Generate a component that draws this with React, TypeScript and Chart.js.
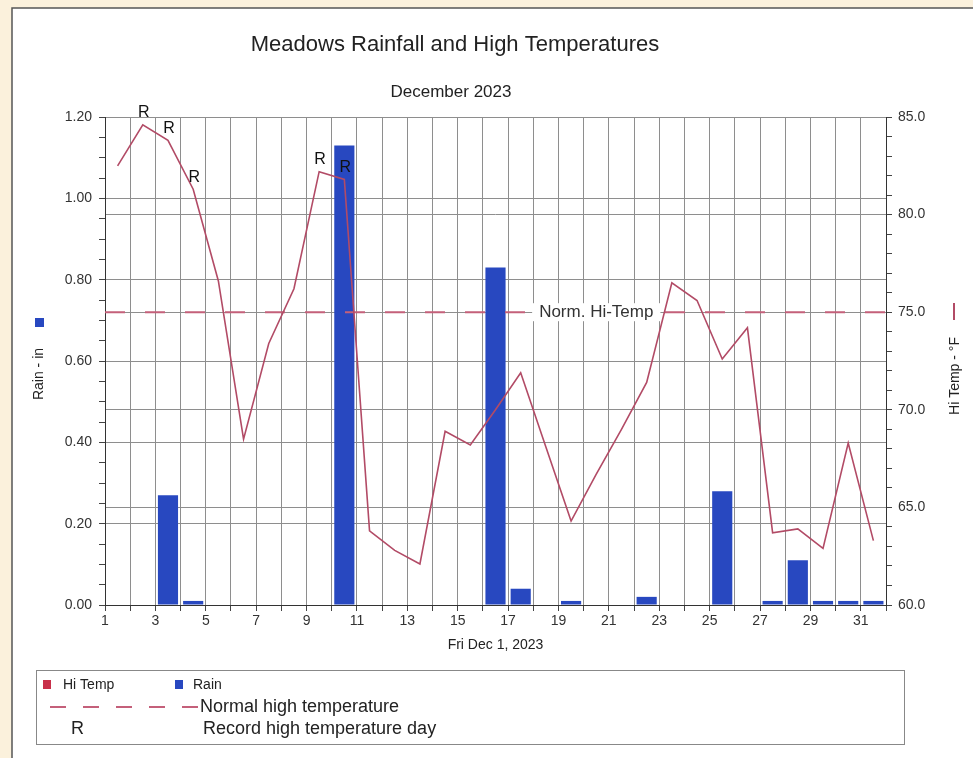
import React, { useEffect, useRef } from 'react';
import { Chart, registerables } from 'chart.js';

Chart.register(...registerables);

// ---------- data ----------
const TITLE = 'Meadows Rainfall and High Temperatures';
const SUBTITLE = 'December 2023';
const X_TITLE = 'Fri Dec 1, 2023';
const LEFT_TITLE = 'Rain - in';
const RIGHT_TITLE = 'Hi Temp - °F';
const NORM_LABEL = 'Norm. Hi-Temp';

const days = [
  1, 2, 3, 4, 5, 6, 7, 8, 9, 10, 11, 12, 13, 14, 15, 16,
  17, 18, 19, 20, 21, 22, 23, 24, 25, 26, 27, 28, 29, 30, 31,
];
const hiTemp = [
  82.5, 84.6, 83.8, 81.3, 76.6, 68.5, 73.4, 76.2, 82.2, 81.8, 63.8, 62.8, 62.1, 68.9, 68.2, 70.0,
  71.9, 68.1, 64.3, 66.7, 69.0, 71.4, 76.5, 75.6, 72.6, 74.2, 63.7, 63.9, 62.9, 68.3, 63.3,
];
const rain = [
  0, 0, 0.27, 0.01, 0, 0, 0, 0, 0, 1.13, 0, 0, 0, 0, 0, 0.83,
  0.04, 0, 0.01, 0, 0, 0.02, 0, 0, 0.28, 0, 0.01, 0.11, 0.01, 0.01, 0.01,
];
const recordDays = [2, 3, 4, 9, 10];
const normalHigh = 75;
const rainRange = [0, 1.2];
const tempRange = [60, 85];
const dayRange = [1, 32];

const legendItems = ['Hi Temp', 'Rain', 'Normal high temperature', 'Record high temperature day'];

// ---------- styles ----------
const FONT = '"Liberation Sans", Arial, Helvetica, sans-serif';
const TEMP_COLOR = '#b24b66';
const NORM_COLOR = '#c4607a';
const RAIN_COLOR = '#2848c0';
const HITEMP_SWATCH = '#c8304a';
const GRID = '#8e8e8e';
const AXIS = '#333333';

const decorPlugin = {
  id: 'decor',
  beforeDraw(chart: any) {
    const ctx = chart.ctx;
    const W = chart.width;
    const H = chart.height;
    ctx.save();
    ctx.fillStyle = '#fbf1dc';
    ctx.fillRect(0, 0, W, H);
    ctx.fillStyle = '#ffffff';
    ctx.fillRect(12, 8, W - 12, H - 8);
    ctx.strokeStyle = '#555555';
    ctx.lineWidth = 1.5;
    ctx.beginPath();
    ctx.moveTo(12, H);
    ctx.lineTo(12, 8);
    ctx.lineTo(W, 8);
    ctx.stroke();

    ctx.fillStyle = '#222222';
    ctx.textAlign = 'center';
    ctx.textBaseline = 'middle';
    ctx.font = `22px ${FONT}`;
    ctx.fillText(TITLE, 455, 45);
    ctx.font = `17px ${FONT}`;
    ctx.fillText(SUBTITLE, 451, 92);
    ctx.restore();
  },
  afterDatasetsDraw(chart: any) {
    const ctx = chart.ctx;
    const xs = chart.scales.x;
    const y1 = chart.scales.y1;
    ctx.save();
    // Norm label
    const ny = y1.getPixelForValue(normalHigh);
    const nx = xs.getPixelForValue(20.5);
    ctx.font = `17px ${FONT}`;
    const tw = ctx.measureText(NORM_LABEL).width;
    ctx.fillStyle = '#ffffff';
    ctx.fillRect(nx - tw / 2 - 7, ny - 9, tw + 14, 18);
    ctx.fillStyle = '#333333';
    ctx.textAlign = 'center';
    ctx.textBaseline = 'middle';
    ctx.fillText(NORM_LABEL, nx, ny);

    // record labels
    const meta = chart.getDatasetMeta(0);
    ctx.font = `16px ${FONT}`;
    ctx.fillStyle = '#111111';
    recordDays.forEach((d) => {
      const el = meta.data[days.indexOf(d)];
      if (el) ctx.fillText('R', el.x + 1, el.y - 12);
    });
    ctx.restore();
  },
  afterDraw(chart: any) {
    const ctx = chart.ctx;
    const ca = chart.chartArea;
    ctx.save();
    ctx.fillStyle = '#222222';
    ctx.textAlign = 'center';
    ctx.textBaseline = 'middle';
    ctx.font = `14px ${FONT}`;
    ctx.fillText(X_TITLE, (ca.left + ca.right) / 2, 645);

    // left axis title + marker
    ctx.fillStyle = RAIN_COLOR;
    ctx.fillRect(35, 318, 9, 9);
    ctx.fillStyle = '#222222';
    ctx.save();
    ctx.translate(39, 374);
    ctx.rotate(-Math.PI / 2);
    ctx.fillText(LEFT_TITLE, 0, 0);
    ctx.restore();

    // right axis title + marker
    ctx.strokeStyle = TEMP_COLOR;
    ctx.lineWidth = 2;
    ctx.beginPath();
    ctx.moveTo(954, 303);
    ctx.lineTo(954, 320);
    ctx.stroke();
    ctx.save();
    ctx.translate(955, 376);
    ctx.rotate(-Math.PI / 2);
    ctx.fillText(RIGHT_TITLE, 0, 0);
    ctx.restore();

    // legend box
    ctx.strokeStyle = '#888888';
    ctx.lineWidth = 1;
    ctx.strokeRect(36.5, 670.5, 868, 74);
    ctx.textAlign = 'left';
    ctx.fillStyle = HITEMP_SWATCH;
    ctx.fillRect(43, 680, 8, 9);
    ctx.fillStyle = RAIN_COLOR;
    ctx.fillRect(175, 680, 8, 9);
    ctx.fillStyle = '#222222';
    ctx.font = `14px ${FONT}`;
    ctx.fillText(legendItems[0], 63, 685);
    ctx.fillText(legendItems[1], 193, 685);
    ctx.strokeStyle = NORM_COLOR;
    ctx.lineWidth = 2;
    ctx.setLineDash([16, 17]);
    ctx.beginPath();
    ctx.moveTo(50, 707);
    ctx.lineTo(185, 707);
    ctx.stroke();
    ctx.setLineDash([]);
    ctx.beginPath();
    ctx.moveTo(183, 707);
    ctx.lineTo(198, 707);
    ctx.stroke();
    ctx.font = `18px ${FONT}`;
    ctx.fillText(legendItems[2], 200, 707);
    ctx.fillText(legendItems[3], 203, 729);
    ctx.fillText('R', 71, 729);
    ctx.restore();
  },
};

export default function App() {
  const ref = useRef<HTMLCanvasElement | null>(null);

  useEffect(() => {
    const canvas = ref.current;
    if (!canvas) return;
    const chart = new Chart(canvas, {
      type: 'bar',
      data: {
        datasets: [
          {
            type: 'line',
            label: 'Hi Temp',
            data: days.map((d, i) => ({ x: d + 0.5, y: hiTemp[i] })),
            yAxisID: 'y1',
            xAxisID: 'x',
            borderColor: TEMP_COLOR,
            borderWidth: 1.6,
            pointRadius: 0,
            tension: 0,
            order: 0,
          } as any,
          {
            type: 'line',
            label: 'Normal',
            data: [
              { x: dayRange[0], y: normalHigh },
              { x: dayRange[1], y: normalHigh },
            ],
            yAxisID: 'y1',
            xAxisID: 'x',
            borderColor: NORM_COLOR,
            borderWidth: 2,
            borderDash: [20, 20],
            pointRadius: 0,
            order: 1,
          } as any,
          {
            type: 'bar',
            label: 'Rain',
            data: days.map((d, i) => ({ x: d + 0.5, y: rain[i] })),
            yAxisID: 'y',
            xAxisID: 'x',
            backgroundColor: RAIN_COLOR,
            borderWidth: 0,
            barPercentage: 0.8,
            categoryPercentage: 1,
            order: 2,
          } as any,
        ],
      },
      options: {
        animation: false,
        responsive: false,
        maintainAspectRatio: false,
        layout: { padding: { top: 117, bottom: 123, left: 0, right: 0 } },
        plugins: {
          legend: { display: false },
          tooltip: { enabled: false },
          title: { display: false },
        },
        scales: {
          x: {
            type: 'linear',
            min: dayRange[0],
            max: dayRange[1],
            offset: false,
            afterFit: (s: any) => {
              s.height = 30;
            },
            grid: { color: GRID, tickColor: '#444', tickLength: 6, offset: false, lineWidth: 1 },
            border: { color: AXIS, width: 1 },
            ticks: {
              stepSize: 1,
              autoSkip: false,
              maxRotation: 0,
              padding: 2,
              color: '#333',
              font: { family: FONT, size: 14 },
              callback: (v: any) => (v % 2 === 1 && v <= 31 ? String(v) : ''),
            },
          },
          y: {
            type: 'linear',
            position: 'left',
            min: rainRange[0],
            max: rainRange[1],
            afterFit: (s: any) => {
              s.width = 105;
            },
            grid: {
              color: (c: any) => (Math.round(c.tick.value * 100) % 20 === 0 ? GRID : 'rgba(0,0,0,0)'),
              tickColor: '#444',
              tickLength: 6,
            },
            border: { color: AXIS, width: 1 },
            ticks: {
              stepSize: 0.05,
              maxTicksLimit: 100,
              autoSkip: false,
              padding: 7,
              color: '#333',
              font: { family: FONT, size: 14 },
              callback: (v: any) => (Math.round(v * 100) % 20 === 0 ? Number(v).toFixed(2) : ''),
            },
          },
          y1: {
            type: 'linear',
            position: 'right',
            min: tempRange[0],
            max: tempRange[1],
            afterFit: (s: any) => {
              s.width = 87;
            },
            grid: {
              drawOnChartArea: true,
              color: (c: any) => (Math.round(c.tick.value) % 5 === 0 ? GRID : 'rgba(0,0,0,0)'),
              tickColor: '#444',
              tickLength: 6,
            },
            border: { color: AXIS, width: 1 },
            ticks: {
              stepSize: 1,
              maxTicksLimit: 100,
              autoSkip: false,
              padding: 6,
              color: '#333',
              font: { family: FONT, size: 14 },
              callback: (v: any) => (Math.round(v) % 5 === 0 ? Number(v).toFixed(1) : ''),
            },
          },
        },
      } as any,
      plugins: [decorPlugin],
    });
    return () => chart.destroy();
  }, []);

  return (
    <div style={{ position: 'absolute', left: 0, top: 0, width: 973, height: 758 }}>
      <canvas ref={ref} width={973} height={758} style={{ width: 973, height: 758, display: 'block' }} />
    </div>
  );
}
